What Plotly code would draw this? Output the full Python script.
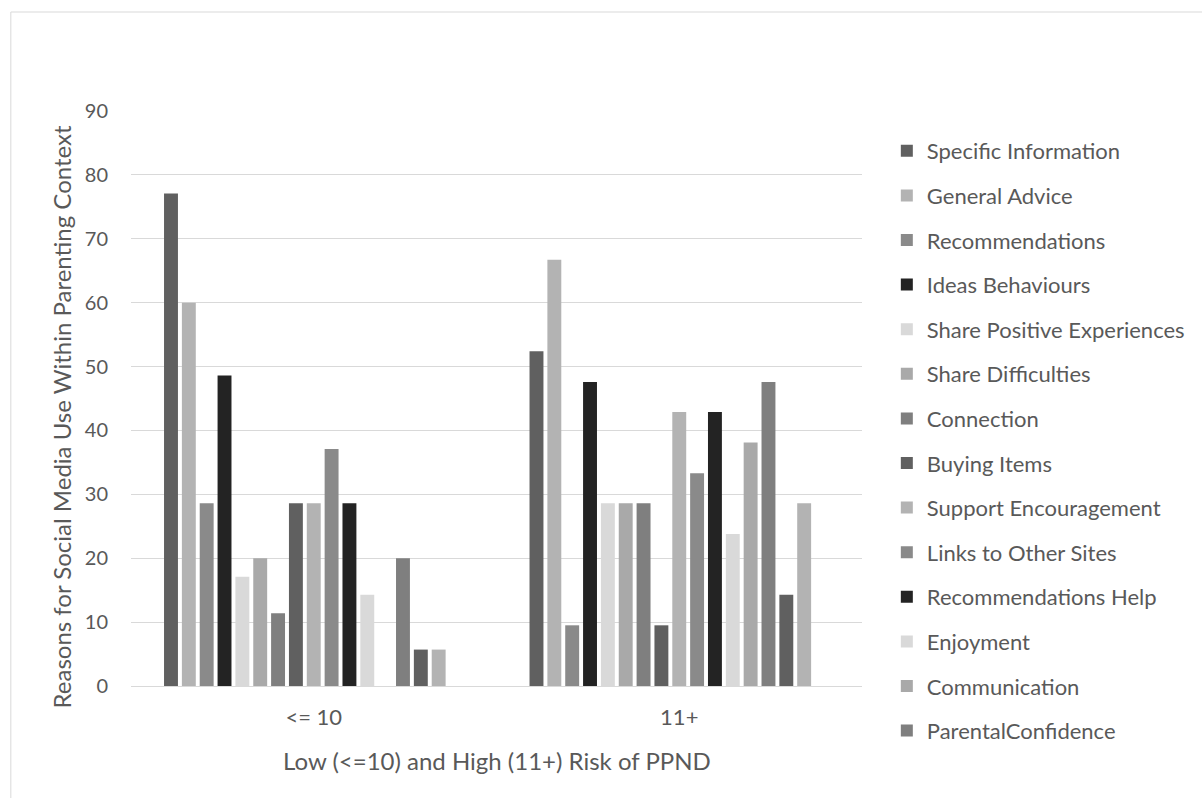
import plotly.graph_objects as go

categories = ["<= 10", "11+"]
series_names = [
    "Specific Information", "General Advice", "Recommendations", "Ideas Behaviours",
    "Share Positive Experiences", "Share Difficulties", "Connection", "Buying Items",
    "Support Encouragement", "Links to Other Sites", "Recommendations Help", "Enjoyment",
    "Communication", "ParentalConfidence", "Series 15", "Series 16", "Series 17",
]
low_risk = [77.1, 60.0, 28.6, 48.6, 17.1, 20.0, 11.4, 28.6, 28.6, 37.1, 28.6, 14.3, 0.0, 20.0, 5.7, 5.7, 0.0]
high_risk = [52.4, 66.7, 9.5, 47.6, 28.6, 28.6, 28.6, 9.5, 42.9, 33.3, 42.9, 23.8, 38.1, 47.6, 14.3, 28.6, 0.0]
legend_shown = [True] * 14 + [False, False, False]
y_ticks = [0, 10, 20, 30, 40, 50, 60, 70, 80, 90]

palette = ["#606060", "#b3b3b3", "#8a8a8a", "#232323", "#d9d9d9", "#a9a9a9", "#7f7f7f"]

FONT = "Lato"
TXT = "#595959"

# plot area in pixels
L, R, T, B = 131, 867, 111, 686
W, H = R - L, B - T

fig = go.Figure()
for i, name in enumerate(series_names):
    fig.add_trace(go.Bar(
        x=categories, y=[low_risk[i], high_risk[i]], name=name,
        marker=dict(color=palette[i % len(palette)], line=dict(width=0)),
        legendgroup=f"g{i}", showlegend=legend_shown[i],
    ))

def px_x(x):
    return (x - L) / W

def px_y(y):
    return (B - y) / H

fig.update_layout(
    width=1202, height=798,
    margin=dict(l=L, r=1202 - R, t=T, b=798 - B),
    paper_bgcolor="white", plot_bgcolor="white",
    barmode="group", bargap=0.17, bargroupgap=0.22,
    font=dict(family=FONT, color=TXT),
    legend=dict(
        x=px_x(892), xanchor="left", y=px_y(130), yanchor="top",
        font=dict(family=FONT, size=22, color=TXT),
        tracegroupgap=13, itemwidth=30, maxheight=760,
    ),
    xaxis=dict(
        showgrid=False, showline=True, linecolor="#d9d9d9", linewidth=1,
        ticks="", tickfont=dict(size=22, color=TXT), ticklabelstandoff=12,
    ),
    yaxis=dict(
        range=[0, 90], tickvals=y_ticks, showgrid=True, gridcolor="#d9d9d9", gridwidth=1,
        zeroline=False, showline=False, ticks="",
        tickfont=dict(size=20, color=TXT), ticklabelstandoff=22,
    ),
    annotations=[
        dict(text="Reasons for Social Media Use Within Parenting Context",
             xref="paper", yref="paper", x=px_x(61), y=px_y(417),
             xanchor="center", yanchor="middle", textangle=-90, showarrow=False,
             font=dict(size=24, color=TXT, family=FONT)),
        dict(text="Low (<=10) and High (11+) Risk of PPND",
             xref="paper", yref="paper", x=px_x(499), y=px_y(760),
             xanchor="center", yanchor="middle", showarrow=False,
             font=dict(size=24, color=TXT, family=FONT)),
    ],
    shapes=[dict(
        type="rect", xref="paper", yref="paper",
        x0=px_x(10), x1=px_x(1215), y0=px_y(810), y1=px_y(12),
        line=dict(color="#d9d9d9", width=1), fillcolor="rgba(0,0,0,0)", layer="below",
    )],
)

fig.write_html("out.html")
